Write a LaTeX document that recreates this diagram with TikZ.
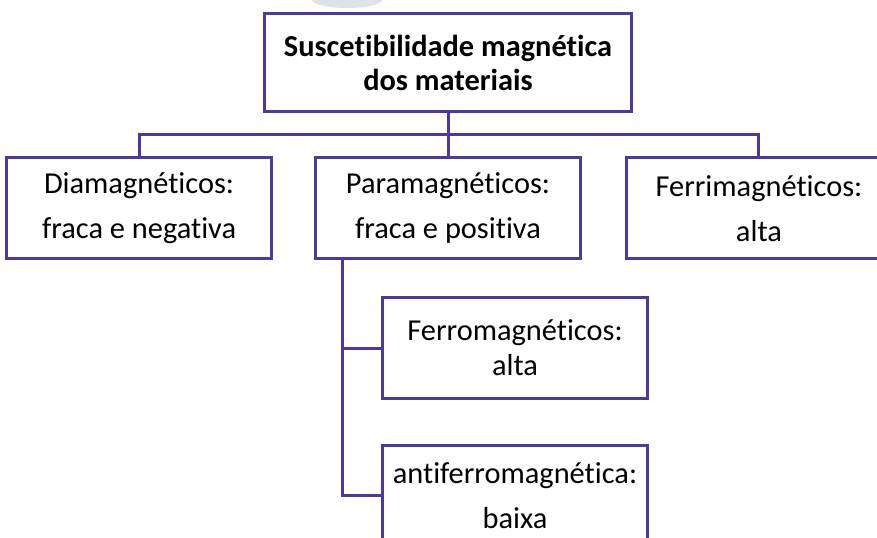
\documentclass[tikz,border=0pt]{standalone}
\usepackage{fontspec}
\setmainfont{Carlito}[Ligatures=NoCommon]
\usetikzlibrary{positioning, shapes.geometric, calc}
\definecolor{linepurple}{RGB}{72,57,163}
\definecolor{blobgray}{RGB}{221,227,231}

\begin{document}
\begin{tikzpicture}[x=0.02cm, y=-0.02cm]
    % Styles
    \tikzset{
        box/.style={rectangle, draw=linepurple, line width=0.06cm, fill=white, text centered, align=center, minimum width=5.3cm, minimum height=2.02cm, inner sep=0pt, font=\fontsize{17.3}{25.6}\selectfont},
        title_box/.style={box, minimum width=7.36cm, minimum height=1.98cm, font=\fontsize{17.3}{19.4}\selectfont\bfseries},
        tight_box/.style={box, font=\fontsize{17.3}{19.9}\selectfont},
        link/.style={draw=linepurple, line width=0.06cm}
    }

    \useasboundingbox (0,0) rectangle (877,538);
    \clip (0,0) rectangle (877,538);

    % --- Nodes ---

    % Grey blob cut by the top edge
    \node[ellipse, fill=blobgray, minimum width=1.4cm, minimum height=0.32cm, inner sep=0pt] (blob) at (347,0) {};

    % Root
    \node[title_box] (root) at (448,62.5) {Suscetibilidade magnética\\dos materiais};

    % First row
    \node[box, below=0.86cm of root] (para) {Paramagnéticos:\\fraca e positiva};
    \node[box, left=0.82cm of para] (dia) {Diamagnéticos:\\fraca e negativa};
    \node[box, right=0.86cm of para] (ferri) {Ferrimagnéticos:\\alta};

    % Under Paramagneticos
    \node[tight_box] (ferro) at (515,348) {Ferromagnéticos:\\alta};
    \node[box, below=0.88cm of ferro] (antiferro) {antiferromagnética:\\baixa};

    % --- Connections ---

    % Root to first row
    \draw[link] (root.south) -- (para.north);
    \draw[link] (dia.north) |- ($(root.south)!0.5!(para.north)$) -| (ferri.north);

    % Paramagneticos to the two boxes below
    \coordinate (trunk) at ([xshift=0.56cm]para.south west);
    \draw[link] (trunk) |- (antiferro.west);
    \draw[link] (trunk |- ferro.west) -- (ferro.west);

\end{tikzpicture}
\end{document}
